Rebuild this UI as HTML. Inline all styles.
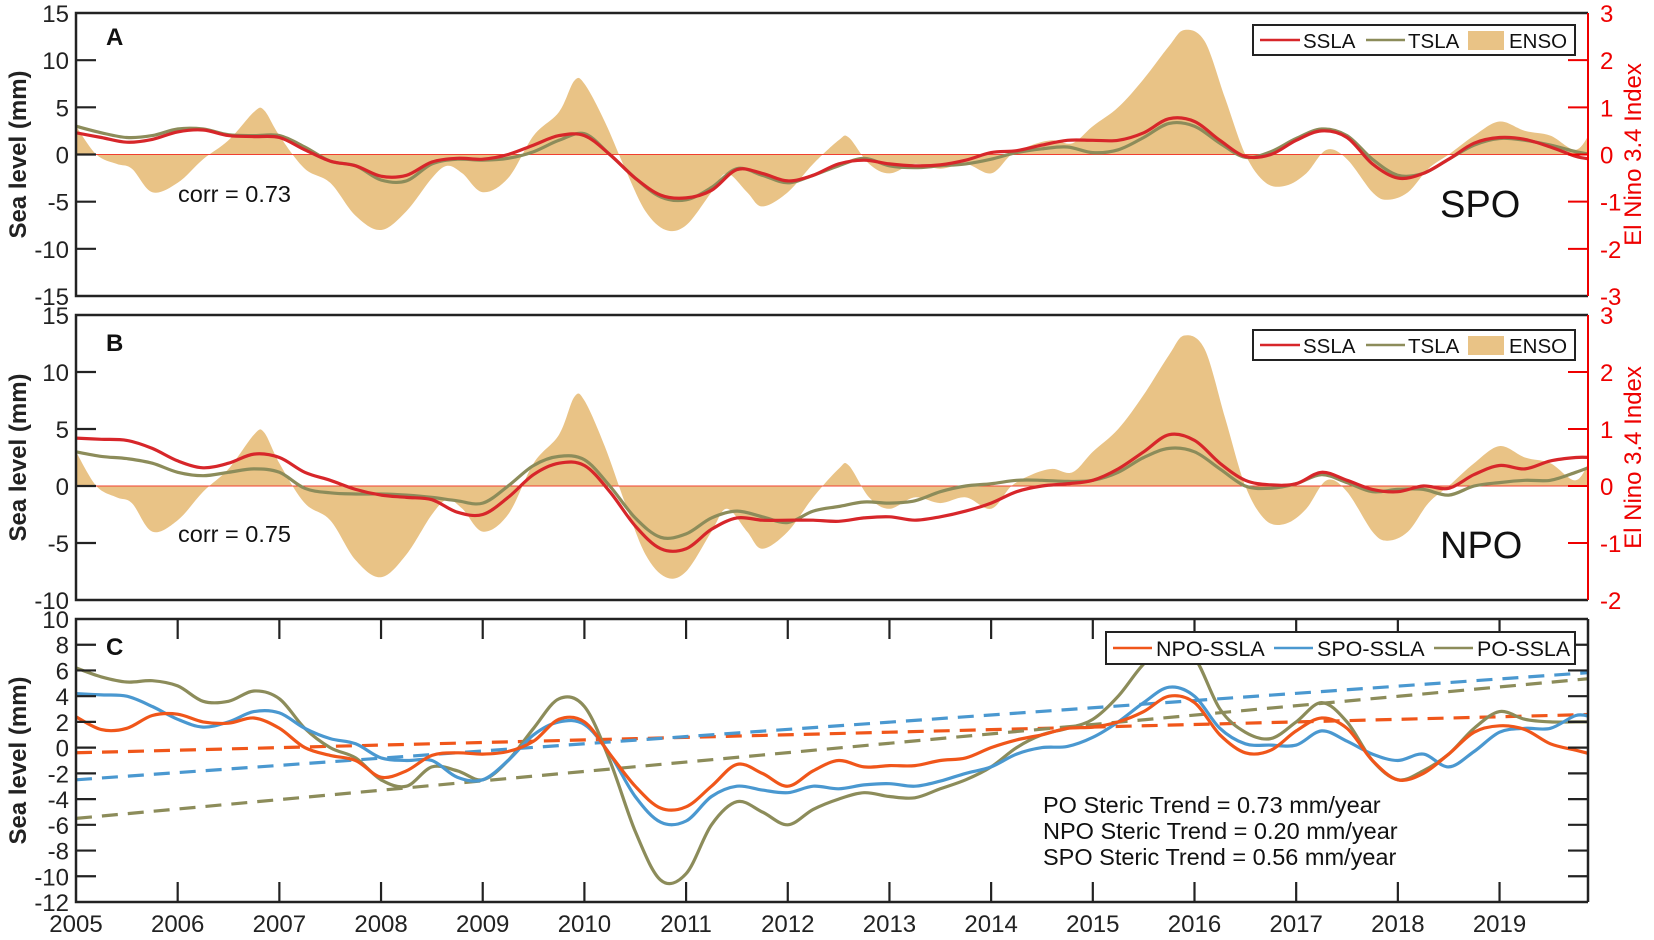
<!DOCTYPE html>
<html><head><meta charset="utf-8"><style>
body{margin:0;background:#fff;}
svg{display:block;font-family:"Liberation Sans",Arial,sans-serif;}
</style></head><body>
<svg id="fig" width="1654" height="940" xmlns="http://www.w3.org/2000/svg"></svg>
<script>
const years=[2005,2005.25,2005.5,2005.75,2006,2006.25,2006.5,2006.75,2007,2007.25,2007.5,2007.75,2008,2008.25,2008.5,2008.75,2009,2009.25,2009.5,2009.75,2010,2010.25,2010.5,2010.75,2011,2011.25,2011.5,2011.75,2012,2012.25,2012.5,2012.75,2013,2013.25,2013.5,2013.75,2014,2014.25,2014.5,2014.75,2015,2015.25,2015.5,2015.75,2016,2016.25,2016.5,2016.75,2017,2017.25,2017.5,2017.75,2018,2018.25,2018.5,2018.75,2019,2019.25,2019.5,2019.75,2019.9];
const aSSLA=[2.3,1.8,1.3,1.6,2.4,2.6,2,1.9,1.8,0.5,-0.7,-1.2,-2.3,-2.2,-0.8,-0.4,-0.5,0,1,2,2,0,-2.5,-4.3,-4.6,-3.8,-1.6,-2,-2.8,-2.2,-1.0,-0.6,-1.0,-1.2,-1.1,-0.6,0.2,0.4,1.0,1.5,1.5,1.5,2.3,3.8,3.5,1.5,-0.2,0,1.5,2.5,1.8,-1.0,-2.5,-2.0,-0.5,1.2,1.8,1.6,0.8,-0.2,-0.5];
const aTSLA=[3,2.3,1.8,2.0,2.7,2.7,2.1,2.0,2.0,0.8,-0.7,-1.2,-2.7,-2.8,-1.0,-0.5,-0.6,-0.4,0.3,1.5,2.2,0,-2.5,-4.5,-4.8,-3.5,-1.5,-2.2,-3.0,-2.2,-1.2,-0.4,-1.2,-1.4,-1.2,-1.0,-0.5,0.2,0.6,0.8,0.2,0.5,1.8,3.3,3.0,1.2,-0.3,0.3,1.7,2.7,2.0,-0.5,-2.2,-2.0,-0.5,1.0,1.7,1.5,1.0,0.3,0];
const bSSLA=[4.2,4.1,4.0,3.3,2.2,1.6,2.0,2.8,2.5,1.2,0.5,-0.3,-0.8,-1.0,-1.2,-2.3,-2.5,-1.0,1.0,2.0,1.8,-0.5,-3.5,-5.5,-5.5,-3.8,-2.8,-3.0,-3.0,-3.0,-3.1,-2.8,-2.7,-3.0,-2.7,-2.2,-1.5,-0.5,0.0,0.2,0.5,1.5,3.0,4.5,4.0,2.0,0.5,0.1,0.2,1.2,0.5,-0.3,-0.5,0,-0.2,1.0,1.8,1.5,2.2,2.5,2.5];
const bTSLA=[3,2.6,2.4,2.0,1.2,0.9,1.2,1.5,1.2,-0.2,-0.6,-0.7,-0.7,-0.8,-1.0,-1.3,-1.5,0,1.8,2.6,2.3,0,-2.8,-4.5,-4.2,-2.8,-2.2,-2.7,-3.2,-2.2,-1.8,-1.4,-1.5,-1.3,-0.5,0,0.2,0.5,0.5,0.4,0.5,1.2,2.5,3.3,3.0,1.5,0,-0.2,0.2,1.0,0.3,-0.5,-0.3,-0.3,-0.8,0,0.3,0.5,0.5,1.2,1.7];
const cNPO=[2.4,1.4,1.5,2.5,2.6,2.0,1.9,2.3,1.5,0,-0.6,-1.0,-2.3,-1.8,-0.6,-0.4,-0.5,-0.3,0.5,2.2,2.0,-0.5,-3.0,-4.7,-4.6,-3.0,-1.3,-2.0,-3.0,-1.8,-1.0,-1.5,-1.4,-1.4,-1.0,-0.8,0,0.6,1.0,1.5,1.6,2.0,2.8,4.0,3.5,1.0,-0.4,-0.2,1.3,2.3,1.5,-1.0,-2.5,-2.0,-0.5,1.2,1.7,1.4,0.3,-0.2,-0.5];
const cSPO=[4.2,4.1,4.0,3.2,2.2,1.6,2.0,2.8,2.7,1.5,0.7,0.3,-0.8,-1.0,-1.0,-2.3,-2.5,-1.0,1.0,2.0,1.8,-0.5,-3.8,-5.8,-5.7,-3.8,-3.0,-3.3,-3.5,-3.0,-3.2,-2.9,-2.8,-3.0,-2.6,-2.0,-1.5,-0.5,0.0,0.1,0.8,2.0,3.5,4.7,4.0,1.5,0.3,0.2,0.2,1.3,0.5,-0.5,-1.0,-0.5,-1.5,-0.3,1.2,1.5,1.5,2.5,2.4];
const cPO=[6.2,5.5,5.1,5.2,4.8,3.6,3.6,4.4,3.8,1.5,0,-0.8,-2.5,-3.0,-1.5,-1.8,-2.5,-1.0,1.5,3.8,3.2,-1.0,-6.5,-10.3,-9.8,-6.0,-4.2,-5.0,-6.0,-4.8,-4.0,-3.5,-3.8,-3.9,-3.2,-2.5,-1.5,0.0,1.0,1.5,2.2,4.0,6.5,8.0,7.0,3.0,1.2,0.7,2.0,3.5,2.0,-1.0,-2.5,-1.8,-0.5,1.5,2.8,2.2,2.0,2.0,2.0];
const ensoYears=[2005,2005.2,2005.4,2005.55,2005.75,2006,2006.25,2006.5,2006.75,2006.85,2007,2007.25,2007.5,2007.75,2008,2008.25,2008.5,2008.65,2008.8,2009,2009.25,2009.5,2009.75,2009.9,2010,2010.2,2010.4,2010.6,2010.8,2011,2011.25,2011.4,2011.6,2011.75,2012,2012.25,2012.5,2012.6,2012.8,2013,2013.25,2013.5,2013.75,2014,2014.2,2014.4,2014.6,2014.8,2015,2015.25,2015.5,2015.75,2015.9,2016.1,2016.3,2016.5,2016.7,2016.9,2017.1,2017.3,2017.5,2017.75,2017.9,2018.1,2018.3,2018.5,2018.75,2019,2019.25,2019.5,2019.75,2019.9];
const ensoIdx=[0.6,0,-0.2,-0.3,-0.8,-0.6,-0.1,0.3,0.9,0.94,0.4,-0.3,-0.6,-1.3,-1.6,-1.2,-0.5,-0.24,-0.4,-0.8,-0.5,0.4,0.9,1.56,1.5,0.7,-0.3,-1.2,-1.6,-1.5,-0.8,-0.4,-0.8,-1.1,-0.8,-0.2,0.3,0.36,-0.2,-0.4,-0.2,-0.3,-0.2,-0.4,0,0.2,0.3,0.24,0.6,1.0,1.6,2.3,2.64,2.4,1.2,0,-0.6,-0.66,-0.4,0.1,-0.1,-0.8,-0.96,-0.8,-0.3,0,0.4,0.7,0.5,0.4,0.1,0.5];
const trendStart=2005, trendEnd=2019.9;
const npoTrend=[-0.4,0.20], spoTrend=[-2.5,0.56], poTrend=[-5.5,0.73];
const yearTicks=[2005,2006,2007,2008,2009,2010,2011,2012,2013,2014,2015,2016,2017,2018,2019];
const abTicks=[15,10,5,0,-5,-10,-15];
const bTicks=[15,10,5,0,-5,-10];
const cTicks=[10,8,6,4,2,0,-2,-4,-6,-8,-10,-12];

const NS="http://www.w3.org/2000/svg";
const svg=document.getElementById('fig');
const L=76,R=1588;
const x=t=>L+(t-2005)*(R-L)/(2019.87-2005);
function mk(tag,attrs,parent){const e=document.createElementNS(NS,tag);for(const k in attrs)e.setAttribute(k,attrs[k]);(parent||svg).appendChild(e);return e;}
function txt(s,attrs,parent){const e=mk('text',attrs,parent);e.textContent=s;return e;}
function path(xs,ys,sx,sy){const p=xs.map((t,i)=>[sx(t),sy(ys[i])]);let d='M'+p[0][0].toFixed(1)+','+p[0][1].toFixed(1);
 for(let i=0;i<p.length-1;i++){const p0=p[Math.max(0,i-1)],p1=p[i],p2=p[i+1],p3=p[Math.min(p.length-1,i+2)];
 const c1=[p1[0]+(p2[0]-p0[0])/6,p1[1]+(p2[1]-p0[1])/6],c2=[p2[0]-(p3[0]-p1[0])/6,p2[1]-(p3[1]-p1[1])/6];
 d+='C'+c1.map(v=>v.toFixed(1))+' '+c2.map(v=>v.toFixed(1))+' '+p2.map(v=>v.toFixed(1));}return d;}

function panel(id,top,bot,ymax,ymin){
 const sy=v=>top+(ymax-v)*(bot-top)/(ymax-ymin);
 const g=mk('g',{});
 
 
 const cp=mk('clipPath',{id:'clip'+id},g);mk('rect',{x:L,y:top,width:R-L,height:bot-top},cp);
 const plot=mk('g',{'clip-path':'url(#clip'+id+')'},g);
 return {g,plot,sy};
}
function leftAxis(P,ticks,top,bot,label){
 ticks.forEach(v=>{const y=P.sy(v);
  if(y>top+1&&y<bot-1){mk('line',{x1:L,x2:L+20,y1:y,y2:y,stroke:'#222','stroke-width':2.2},P.g);}
  const l=txt(String(v),{x:L-7,y:y+9,'text-anchor':'end','font-size':24,fill:'#222'},P.g);
  
  });
 const yt=txt(label,{x:0,y:0,transform:`translate(26,${(top+bot)/2}) rotate(-90)`,'text-anchor':'middle','font-size':24,'font-weight':'bold',fill:'#222'},P.g);
 
 
}
function rightAxis(P,imax,imin,top,bot){
 const sy=v=>top+(imax-v)*(bot-top)/(imax-imin);
 mk('line',{x1:R,x2:R,y1:top,y2:bot,stroke:'#e00','stroke-width':2},P.g);
 for(let v=imax;v>=imin;v--){const y=sy(v);
  if(y>top+1&&y<bot-1)mk('line',{x1:R-20,x2:R,y1:y,y2:y,stroke:'#e00','stroke-width':2},P.g);
  const l=txt(String(v),{x:R+12,y:y+9,'font-size':24,fill:'#e00'},P.g);
  
  }
 const t=txt('El Nino 3.4 Index',{x:0,y:0,transform:`translate(1641,${(top+bot)/2}) rotate(-90)`,'text-anchor':'middle','font-size':24,fill:'#e00'},P.g);
 
 
}
function frame(P,top,bot,rightColor){
 mk('path',{d:`M${R},${top}H${L}V${bot}H${R}`,fill:'none',stroke:'#222','stroke-width':2.5},P.g);
 if(!rightColor)mk('line',{x1:R,x2:R,y1:top,y2:bot,stroke:'#222','stroke-width':2.5},P.g);
}
function legendAB(P,top){
 const lg=mk('g',{},P.g);
 
 
 mk('rect',{x:1253,y:top,width:322,height:30,fill:'#fff',stroke:'#222','stroke-width':2},lg);
 mk('line',{x1:1260,x2:1300,y1:top+15,y2:top+15,stroke:'#d7262a','stroke-width':2.5},lg);
 txt('SSLA',{x:1303,y:top+23,'font-size':20.5,fill:'#111'},lg);
 mk('line',{x1:1366,x2:1405,y1:top+15,y2:top+15,stroke:'#8c8c5a','stroke-width':2.5},lg);
 txt('TSLA',{x:1408,y:top+23,'font-size':20.5,fill:'#111'},lg);
 mk('rect',{x:1468,y:top+6,width:36,height:19,fill:'#e9c386'},lg);
 txt('ENSO',{x:1509,y:top+23,'font-size':20.5,fill:'#111'},lg);
}
function enso(P){
 const zy=P.sy(0);
 let d=path(ensoYears,ensoIdx.map(v=>v*5),x,P.sy);
 d+='L'+x(ensoYears[ensoYears.length-1])+','+zy+'L'+x(ensoYears[0])+','+zy+'Z';
 const a=mk('path',{d,fill:'#e9c386'},P.plot);
 
 
 mk('line',{x1:L,x2:R,y1:zy,y2:zy,stroke:'#f04030','stroke-width':1},P.plot);
}
function line(P,ys,color,name,w){
 const e=mk('path',{d:path(years,ys,x,P.sy),fill:'none',stroke:color,'stroke-width':w||3.2},P.plot);
 
 
}

// Panel A
const A=panel('A',13,296,15,-15);
enso(A);line(A,aTSLA,'#8c8c5a','tsla-line');line(A,aSSLA,'#d7262a','ssla-line');
frame(A,13,296,true);leftAxis(A,abTicks,13,296,'Sea level (mm)');rightAxis(A,3,-3,13,296);legendAB(A,25);
txt('A',{x:106,y:45,'font-size':24,'font-weight':'bold',fill:'#111'},A.g);
txt('corr = 0.73',{x:178,y:202,'font-size':23.5,fill:'#111'},A.g);
txt('SPO',{x:1440,y:217,'font-size':38,fill:'#111'},A.g);

// Panel B
const B=panel('B',315,600,15,-10);
enso(B);line(B,bTSLA,'#8c8c5a','tsla-line');line(B,bSSLA,'#d7262a','ssla-line');
frame(B,315,600,true);leftAxis(B,bTicks,315,600,'Sea level (mm)');rightAxis(B,3,-2,315,600);legendAB(B,330);
txt('B',{x:106,y:351,'font-size':24,'font-weight':'bold',fill:'#111'},B.g);
txt('corr = 0.75',{x:178,y:542,'font-size':23.5,fill:'#111'},B.g);
txt('NPO',{x:1440,y:558,'font-size':38,fill:'#111'},B.g);

// Panel C
const C=panel('C',619,902,10,-12);
function trend(P,tr,color,name){const e=mk('line',{x1:x(trendStart),y1:P.sy(tr[0]),x2:x(trendEnd),y2:P.sy(tr[0]+tr[1]*(trendEnd-trendStart)),stroke:color,'stroke-width':3.2,'stroke-dasharray':'16,10'},P.plot);
 
 }
trend(C,npoTrend,'#f0561a','npo-trend');trend(C,spoTrend,'#4a98d0','spo-trend');trend(C,poTrend,'#8c8c5a','po-trend');
line(C,cPO,'#8c8c5a','po-ssla-line');line(C,cSPO,'#4a98d0','spo-ssla-line');line(C,cNPO,'#f0561a','npo-ssla-line');
frame(C,619,902,false);leftAxis(C,cTicks,619,902,'Sea level (mm)');
cTicks.forEach(v=>{const y=C.sy(v);if(y>620&&y<901)mk('line',{x1:R-20,x2:R,y1:y,y2:y,stroke:'#222','stroke-width':2.2},C.g);});
yearTicks.forEach(t=>{const xx=x(t);
 if(t>2005){mk('line',{x1:xx,x2:xx,y1:902,y2:882,stroke:'#222','stroke-width':2.2},C.g);mk('line',{x1:xx,x2:xx,y1:619,y2:639,stroke:'#222','stroke-width':2.2},C.g);}
 const l=txt(String(t),{x:xx,y:932,'text-anchor':'middle','font-size':24,fill:'#222'},C.g);
 
 });
txt('C',{x:106,y:655,'font-size':24,'font-weight':'bold',fill:'#111'},C.g);
const lc=mk('g',{},C.g);


mk('rect',{x:1106,y:632,width:469,height:32,fill:'#fff',stroke:'#222','stroke-width':2},lc);
mk('line',{x1:1113,x2:1152,y1:648,y2:648,stroke:'#f0561a','stroke-width':2.5},lc);
txt('NPO-SSLA',{x:1156,y:656,'font-size':21.5,fill:'#111'},lc);
mk('line',{x1:1274,x2:1313,y1:648,y2:648,stroke:'#4a98d0','stroke-width':2.5},lc);
txt('SPO-SSLA',{x:1317,y:656,'font-size':21.5,fill:'#111'},lc);
mk('line',{x1:1434,x2:1473,y1:648,y2:648,stroke:'#8c8c5a','stroke-width':2.5},lc);
txt('PO-SSLA',{x:1477,y:656,'font-size':21.5,fill:'#111'},lc);
['PO Steric Trend = 0.73 mm/year','NPO Steric Trend = 0.20 mm/year','SPO Steric Trend = 0.56 mm/year'].forEach((s,i)=>{
 const t=txt(s,{x:1043,y:813+i*26,'font-size':23.5,fill:'#111'},C.g);
 
 });
</script>
</body></html>
